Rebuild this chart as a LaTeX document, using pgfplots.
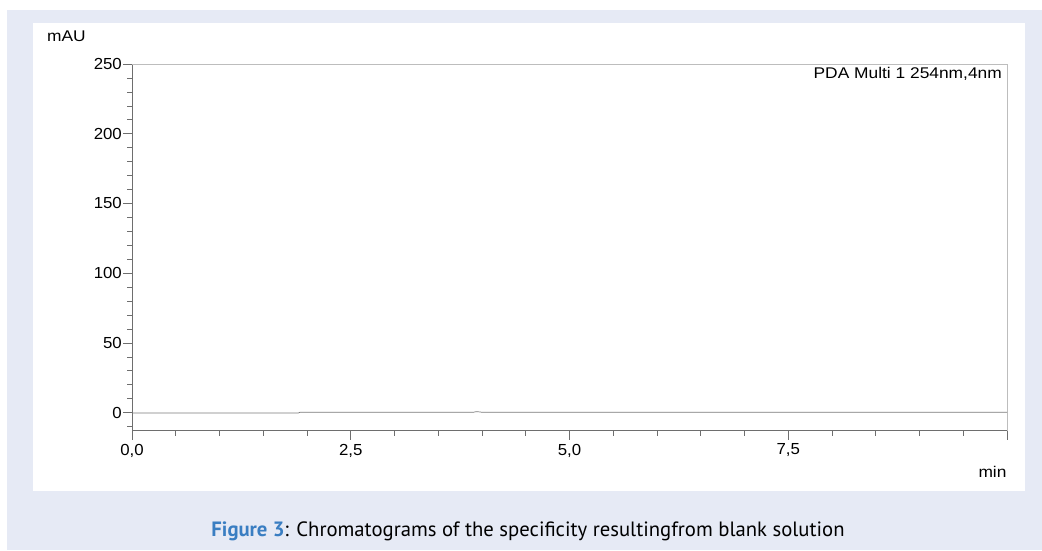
\documentclass[border=0pt]{standalone}
\usepackage{pgfplots}
\pgfplotsset{compat=1.18}
\usepackage{fontspec}
\setmainfont{Liberation Sans}
\newfontfamily\labfont[FakeStretch=1.12]{Liberation Sans}
\newfontfamily\tickfont[FakeStretch=1.05]{Liberation Sans}
\newfontfamily\capfont{PT Sans}
\definecolor{pagebg}{HTML}{E6EAF5}
\definecolor{capblue}{HTML}{3A7EC2}
\definecolor{axdark}{HTML}{6E6E6E}
\definecolor{axlight}{HTML}{BDBDBD}
\definecolor{trace}{HTML}{7A7A7A}

\begin{document}
\begin{tikzpicture}
  % page and panel backgrounds
  \fill[white] (0pt,0pt) rectangle (1042pt,550pt);
  \fill[pagebg] (7pt,0pt) rectangle (1042pt,540pt);
  \fill[white] (33pt,59pt) rectangle (1025pt,527pt);

  \begin{axis}[
    at={(132pt,119.3pt)}, anchor=south west,
    scale only axis, width=875pt, height=366.7pt,
    xmin=0, xmax=10, ymin=-13, ymax=250,
    axis lines*=left,
    axis line style={axdark, line width=0.6pt},
    tick align=outside,
    major tick length=9pt, minor tick length=5pt,
    every tick/.style={axdark, line width=0.6pt},
    xtick={0,2.5,5,7.5,10},
    xticklabels={{0,0},{2,5},{5,0},{7,5},{}},
    minor xtick={0,0.5,...,10},
    ytick={0,50,100,150,200,250},
    minor ytick={-10,0,...,250},
    tick label style={font=\tickfont\fontsize{16}{18}\selectfont},
    /pgf/number format/assume math mode=true,
    xticklabel style={inner ysep=2pt, yshift=-2pt},
    yticklabel style={inner xsep=1pt},
    clip=false,
  ]
    % light frame on the top and right sides
    \draw[axlight, line width=0.6pt] (rel axis cs:0,1) -- (rel axis cs:1,1) -- (rel axis cs:1,0);
    % blank-solution trace
    \addplot[trace, line width=0.7pt] coordinates {
      (0,-0.3) (1.90,-0.3) (1.92,0.2) (3.90,0.2) (3.93,0.6) (3.97,0.5) (4.00,0.2) (10,0.2)
    };
    \node[anchor=base east, inner sep=0pt, font=\labfont\fontsize{15.5}{17}\selectfont]
      at ([xshift=-5pt, yshift=-15pt]rel axis cs:1,1) {PDA Multi 1 254nm,4nm};
  \end{axis}

  % axis titles
  \node[anchor=base west, inner sep=0pt, font=\labfont\fontsize{15.5}{17}\selectfont] at (47pt,508.3pt) {mAU};
  \node[anchor=base east, inner sep=0pt, font=\labfont\fontsize{15.5}{17}\selectfont] at (1006.7pt,72.3pt) {min};

  % caption
  \node[anchor=base, inner sep=0pt, font=\capfont\fontsize{20.7}{23}\selectfont] at (528pt,14pt)
    {\textcolor{capblue}{\textbf{Figure 3}}: Chromatograms of the specificity resultingfrom blank solution};
\end{tikzpicture}
\end{document}
